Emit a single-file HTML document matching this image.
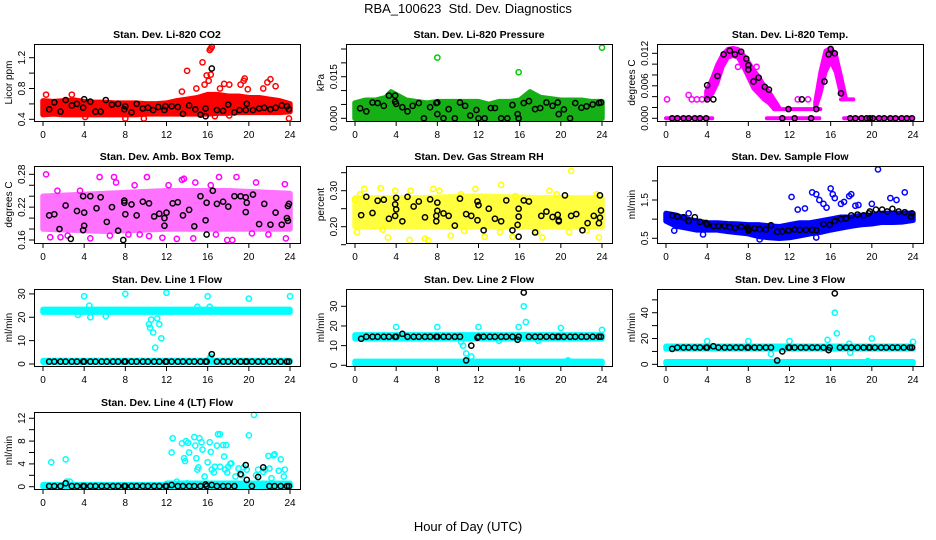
<!DOCTYPE html>
<html><head><meta charset="utf-8"><style>
html,body{margin:0;padding:0;background:#fff;}
svg{display:block;font-family:"Liberation Sans",Arial,sans-serif;}
</style></head><body>
<svg id="chart" width="936" height="540" viewBox="0 0 936 540">
<text x="468" y="13" text-anchor="middle" font-size="13" style="white-space:pre">RBA_100623&#160; Std. Dev. Diagnostics</text>
<text x="468" y="531" text-anchor="middle" font-size="13">Hour of Day (UTC)</text>
</svg>
<script>
const hourTicks = [0,4,8,12,16,20,24];
const hourlyX = [0.6,1.1,1.7,2.2,2.8,3.3,3.9,4,4.6,5.1,5.7,6.2,6.8,7.3,7.9,8,8.6,9.1,9.7,10.2,10.8,11.3,11.9,12,12.5,13.1,13.6,14.2,14.7,15.3,15.8,15.9,16.4,16.9,17.5,18,18.6,19.2,19.7,19.8,20.3,20.9,21.4,22,22.5,23.1,23.7,23.9];

// CO2
const co2BandX = [0,1,2,3,4,5,6,7,8,9,10,11,12,13,14,15,16,17,18,19,20,21,22,23,24];
const co2BandLo = [0.46,0.47,0.46,0.46,0.46,0.46,0.46,0.46,0.46,0.46,0.47,0.47,0.47,0.47,0.47,0.47,0.47,0.48,0.48,0.49,0.49,0.49,0.49,0.49,0.5];
const co2BandHi = [0.64,0.63,0.64,0.65,0.63,0.62,0.62,0.61,0.61,0.61,0.6,0.6,0.61,0.64,0.66,0.68,0.72,0.72,0.7,0.7,0.68,0.68,0.66,0.64,0.6];
const co2Out = [[0.1,0.47],[0.3,0.72],[2.8,0.72],[4.1,0.43],[8,0.41],[9.8,0.41],[13.5,0.76],[14,1.03],[14.9,0.8],[15.5,1.14],[15.7,0.85],[15.9,0.97],[16.1,0.9],[16.2,1.3],[16.3,1.32],[16.4,1.34],[16.3,0.98],[17.2,0.8],[17.6,0.86],[18.1,0.85],[19.2,0.85],[19.5,0.9],[19.6,0.93],[19.9,0.79],[21.4,0.8],[21.8,0.88],[22.1,0.92],[22.6,0.83],[23.9,0.41],[16.7,0.44],[18.1,0.45]];
const co2Black = [[0.6,0.53],[1.1,0.62],[1.7,0.5],[2.2,0.65],[2.8,0.58],[3.3,0.6],[3.9,0.55],[4,0.66],[4.6,0.63],[5.1,0.5],[5.6,0.5],[6.1,0.65],[6.7,0.59],[7.3,0.6],[7.9,0.53],[8,0.57],[8.6,0.49],[9.1,0.6],[9.7,0.54],[10.2,0.55],[10.7,0.52],[11.2,0.56],[11.8,0.52],[11.9,0.57],[12.5,0.57],[13.1,0.56],[13.6,0.47],[14.2,0.58],[14.8,0.53],[15.3,0.46],[15.8,0.54],[15.8,0.44],[16.4,1.06],[16.9,0.52],[17.5,0.51],[18,0.59],[18.6,0.49],[19.1,0.52],[19.7,0.52],[19.8,0.6],[20.4,0.52],[21,0.54],[21.5,0.55],[22.1,0.53],[22.6,0.55],[23.2,0.58],[23.7,0.57],[23.9,0.53]];

// Pressure
const presBandX = [0,1,2,3,3.5,4,5,6,7,8,9,10,11,12,13,14,15,16,16.5,17,18,19,20,21,22,23,24];
const presBandLo = [0,0,0,0,0,0,0,0,0,0,0,0,0,0,0,0,0,0,0,0,0,0,0,0,0,0,0];
const presBandHi = [0.0055,0.0065,0.0065,0.0075,0.0095,0.0085,0.0065,0.006,0.0055,0.006,0.006,0.006,0.006,0.006,0.005,0.006,0.006,0.0065,0.008,0.0095,0.0075,0.007,0.0065,0.0065,0.0065,0.006,0.006];
const presOut = [[8,0.0219],[15.9,0.0166],[24,0.0255]];
const presBlack = [[0.5,0.0036],[1.1,0.0025],[1.7,0.0057],[2.2,0.0055],[2.8,0.0045],[3.3,0.0082],[3.9,0.0082],[3.9,0.006],[4,0.0052],[4.6,0.004],[5.1,0.0025],[5.6,0.0045],[6.2,0.0055],[6.7,0],[7.3,0.004],[7.9,0.0055],[8,0.0057],[8,0.0015],[8.6,0],[9.1,0.0033],[9.7,0],[10.2,0.0057],[10.7,0.0045],[11.2,0.001],[11.8,0.003],[12,0],[12.6,0],[13.2,0.0037],[13.6,0.0037],[14.2,0],[14.8,0],[15.3,0.0048],[15.8,0.0015],[15.9,0],[16.4,0.0055],[16.9,0.0062],[17.5,0.0033],[18,0.0037],[18.6,0.0057],[19.2,0.0045],[19.7,0.0057],[19.8,0.0015],[20.3,0.0032],[20.9,0],[21.4,0.0055],[22,0.0038],[22.5,0.0043],[23.1,0.005],[23.7,0.0055],[23.9,0.0057]];

// Li-820 Temp (several bands)
const tempBandAX = [0,4.5], tempBandALo = [0,0], tempBandAHi = [0,0];
const tempBandBX = [9.8,14.9], tempBandBLo = [0,0], tempBandBHi = [0,0];
const tempBandCX = [17.3,24], tempBandCLo = [0,0], tempBandCHi = [0,0];
const tempBandDX = [3.9,4.5,5,5.5,6,6.5,7,7.5,8,8.5,9,9.5,10,10.5,11];
const tempBandDLo = [0.0035,0.0045,0.0065,0.0095,0.0112,0.0115,0.0112,0.0095,0.0075,0.0055,0.0045,0.0035,0.0028,0.0017,0.0017];
const tempBandDHi = [0.005,0.0075,0.01,0.0118,0.0128,0.013,0.0128,0.0118,0.0105,0.009,0.0078,0.0062,0.005,0.0035,0.002];
const tempBandEX = [10.5,15], tempBandELo = [0.0017,0.0017], tempBandEHi = [0.0017,0.0017];
const tempBandFX = [14.5,15,15.5,16,16.5,17,17.5];
const tempBandFLo = [0.0017,0.0045,0.0085,0.0105,0.0085,0.0045,0.0035];
const tempBandFHi = [0.003,0.0085,0.0125,0.013,0.0118,0.0078,0.0035];
const tempBandGX = [17,18.2], tempBandGLo = [0.0035,0.0035], tempBandGHi = [0.0035,0.0035];
const tempOut = [[0.1,0.0035],[2.2,0.0043],[2.5,0.0035],[3,0.0035],[3.5,0.0035],[7,0.0095],[8.8,0.0095],[9.6,0.0055],[12.8,0.0035],[13.8,0.0035]];
const tempBlack = [[0.6,0],[1.1,0],[1.7,0],[2.2,0],[2.8,0],[3.3,0],[3.9,0],[4,0.0061],[4,0.0035],[4.6,0.0035],[5,0.0078],[5.6,0.0118],[6.2,0.0125],[6.7,0.0118],[7.3,0.0123],[7.8,0.011],[8,0.0098],[8,0.009],[8.5,0.0068],[9,0.0075],[9.6,0.0058],[10,0.0053],[11.3,0],[11.9,0.0017],[12.5,0],[13.2,0.0035],[14.1,0],[14.6,0.0017],[15.4,0.0068],[15.8,0.0118],[16,0.0128],[16.4,0.012],[17,0.0046],[17.9,0],[18.4,0],[19,0],[19.5,0],[19.8,0],[20.1,0],[20.7,0],[21.2,0],[21.8,0],[22.3,0],[22.9,0],[23.4,0],[23.9,0]];

// Amb box temp
const ambBandX = [0,6,12,18,24];
const ambBandLo = [0.18,0.176,0.18,0.18,0.18];
const ambBandHi = [0.24,0.245,0.25,0.25,0.245];
const ambOut = [[0.3,0.28],[1.4,0.25],[3.6,0.25],[5.5,0.275],[6.9,0.275],[7.1,0.265],[8.9,0.26],[10.1,0.275],[12.2,0.26],[13.5,0.27],[13.7,0.272],[14.8,0.265],[16.3,0.26],[17.1,0.275],[18.8,0.275],[20.7,0.265],[23.5,0.262],[0.7,0.165],[2.4,0.168],[4.6,0.163],[6.5,0.168],[8.3,0.17],[10.3,0.167],[11.6,0.164],[13,0.162],[14.6,0.163],[16.8,0.17],[17.9,0.16],[18.4,0.16],[20.3,0.172],[21.9,0.17],[23.6,0.163],[1.7,0.165],[9.4,0.17]];
const ambBlack = [[0.6,0.205],[1.1,0.207],[1.6,0.18],[2.2,0.223],[2.7,0.162],[3.3,0.213],[3.9,0.24],[3.9,0.178],[4,0.186],[4,0.21],[4.6,0.24],[5.2,0.218],[5.6,0.238],[6.2,0.193],[6.7,0.22],[7.3,0.177],[7.8,0.16],[7.9,0.228],[7.9,0.232],[8,0.207],[8.6,0.225],[9.1,0.205],[9.7,0.23],[10.3,0.227],[10.8,0.203],[11.3,0.208],[11.8,0.2],[11.8,0.186],[12,0.21],[12.6,0.227],[13.1,0.229],[13.6,0.205],[14.2,0.215],[14.7,0.185],[15.3,0.24],[15.8,0.196],[15.9,0.17],[15.9,0.228],[16.5,0.25],[16.9,0.226],[17.5,0.23],[18,0.221],[18.6,0.24],[19.2,0.24],[19.7,0.238],[19.7,0.211],[19.8,0.228],[20.4,0.243],[21,0.189],[21.5,0.226],[22.1,0.188],[22.6,0.21],[23.2,0.188],[23.7,0.2],[23.8,0.195],[23.8,0.222],[23.9,0.226]];

// Gas stream RH
const rhBandX = [0,6,12,18,24];
const rhBandLo = [0.2,0.2,0.2,0.2,0.2];
const rhBandHi = [0.28,0.28,0.285,0.28,0.28];
const rhOut = [[0,0.275],[0.5,0.29],[0.9,0.305],[2.5,0.307],[3.9,0.3],[5.4,0.3],[7.6,0.305],[8.2,0.3],[10.3,0.29],[11.7,0.305],[14.2,0.316],[15.6,0.285],[18.9,0.3],[19.6,0.29],[21,0.355],[23.5,0.29],[0.2,0.185],[2.7,0.192],[3.2,0.17],[5.3,0.163],[6.8,0.167],[7.1,0.162],[9.3,0.175],[10.6,0.188],[12.6,0.172],[14.1,0.185],[15.3,0.172],[17.7,0.185],[18.2,0.17],[20.8,0.185],[22.5,0.19],[23.7,0.17]];
const rhBlack = [[0.6,0.232],[1.1,0.283],[1.7,0.238],[2.2,0.272],[2.8,0.275],[3.3,0.222],[3.9,0.23],[3.9,0.262],[4,0.248],[4,0.28],[4.6,0.215],[5.1,0.283],[5.7,0.256],[6.2,0.27],[6.8,0.226],[7.3,0.276],[7.9,0.23],[7.9,0.215],[8,0.244],[8,0.267],[8.6,0.237],[9.1,0.23],[9.7,0.203],[10.2,0.278],[10.8,0.235],[11.3,0.23],[11.9,0.218],[11.9,0.27],[12,0.26],[12.5,0.19],[13,0.25],[13.6,0.222],[14.2,0.215],[14.7,0.273],[15.3,0.19],[15.8,0.205],[15.9,0.25],[15.9,0.228],[15.9,0.172],[16.4,0.273],[16.9,0.27],[17.5,0.184],[18.1,0.23],[18.6,0.242],[19.2,0.227],[19.7,0.233],[19.8,0.218],[19.8,0.215],[20.4,0.287],[21,0.23],[21.5,0.235],[22.1,0.19],[22.6,0.21],[23.2,0.23],[23.7,0.21],[23.8,0.287],[23.8,0.225],[23.9,0.245]];

// Sample flow
const sfBandX = [0,1,2,3,4,5,6,7,8,9,10,11,12,13,14,15,16,17,18,19,20,21,22,23,24];
const sfBandLo = [0.95,0.82,0.77,0.72,0.72,0.72,0.68,0.65,0.62,0.55,0.52,0.5,0.52,0.57,0.62,0.66,0.72,0.77,0.82,0.86,0.88,0.92,0.92,0.93,0.97];
const sfBandHi = [1.15,1.1,1.0,0.95,0.9,0.9,0.88,0.87,0.85,0.85,0.82,0.8,0.85,0.9,0.9,0.95,1.0,1.05,1.05,1.1,1.1,1.15,1.15,1.15,1.15];
const sfOut = [[12.2,1.58],[12.8,1.25],[13.5,1.28],[14.2,1.7],[14.6,1.65],[14.9,1.5],[15.3,1.4],[15.6,1.3],[16,1.8],[16.2,1.65],[16.4,1.55],[17,1.4],[17.3,1.45],[17.8,1.6],[18,1.65],[18.4,1.35],[18.7,1.37],[20,1.4],[20.6,2.3],[21.8,1.55],[22.4,1.5],[23.2,1.7],[0.8,0.7],[3.6,0.6],[9.1,0.47],[14.6,0.52],[2.2,1.15]];
const sfBlack = [[0.6,1.1],[1.1,1.07],[1.7,1.05],[2.2,0.95],[2.8,1.05],[3.3,0.93],[3.9,0.9],[4,0.86],[4.6,0.82],[5.1,0.82],[5.7,0.82],[6.2,0.79],[6.7,0.77],[7.3,0.8],[7.9,0.78],[8,0.7],[8,0.74],[8.6,0.76],[9.1,0.74],[9.7,0.73],[10.2,0.84],[10.8,0.67],[11.3,0.68],[11.9,0.7],[12.5,0.73],[13,0.72],[13.6,0.72],[14.2,0.72],[14.6,0.71],[15.3,0.87],[15.9,0.85],[16.4,0.95],[17,1.0],[17.5,1.02],[18,1.1],[18.6,1.12],[19.2,1.1],[19.7,1.15],[19.8,1.2],[20.4,1.25],[21,1.25],[21.5,1.2],[22,1.27],[22.6,1.2],[23.2,1.18],[23.8,1.07],[23.9,1.15]];

// Line 1
const l1BandAX = [0,24], l1BandALo = [22.2,22.2], l1BandAHi = [23.4,23.4];
const l1BandBX = [0,24], l1BandBLo = [0.8,0.8], l1BandBHi = [1.5,1.5];
const l1Out = [[4,29],[4.5,25],[4.6,20],[6.1,20.5],[8,30],[10.3,17],[10.4,15.5],[10.5,19],[10.7,13.5],[10.9,7],[11.1,19.5],[11.3,17],[11.5,11],[12,30.5],[15,24.5],[16,29],[16.2,24.5],[20,28],[24,29],[3.4,21],[16.2,2.5],[16.3,3]];
const l1BlackY = [1,1,1,1,1,1,1,1,1,1,1,1,1,1,1,1,1,1,1,1,1,1,1,1,1,1,1,1,1,1,1,1,4.2,1,1,1,1,1,1,1,1,1,1,1,1,1,1,1];

// Line 2
const l2BandAX = [0,24], l2BandALo = [13.5,13.5], l2BandAHi = [15.5,15.5];
const l2BandBX = [0,24], l2BandBLo = [0.7,0.7], l2BandBHi = [2,2];
const l2Out = [[4,19.5],[8,19.5],[10.5,10],[10.8,6],[11.3,4.5],[12,19.5],[15.9,19.5],[16.4,30],[16.6,22],[20,19],[24,18],[14,12.5],[17.8,12.5],[20.7,2.5],[10.3,12]];
const l2BlackY = [13.5,14.5,14.5,14.5,14.5,14.5,14.5,14.5,16,14.5,14.5,14.5,14.5,14.5,14.5,14.5,14.5,14.5,14.5,14.5,2.5,10,14,14.5,14.5,14.5,14.5,14.5,14.5,14.5,13,14.5,37,14.5,14.5,14.5,14.5,14.5,14.5,14.5,14.5,14.5,14.5,14.5,14.5,14.5,14.5,14.5];

// Line 3
const l3BandAX = [0,24], l3BandALo = [12,12], l3BandAHi = [14,14];
const l3BandBX = [0,24], l3BandBLo = [0.5,0.5], l3BandBHi = [2,2];
const l3Out = [[4,18],[8,18],[10.2,8],[12,18],[15.7,19],[16.4,40],[16.6,24],[17.8,16],[17.9,9],[20,20],[24,17.5],[19.6,2.5]];
const l3BlackY = [12,13,13,13,13,13,13,13,14,13,13,13,13,13,13,13,13,13,13,13,3,10,13,13,13,13,13,13,13,13,11,13,55,13,13,13,13,13,13,13,13,13,13,13,13,13,13,13];

// Line 4
const l4BandAX = [0,24], l4BandALo = [0,0], l4BandAHi = [0.35,0.35];
const l4BandBX = [12,24], l4BandBLo = [0,0], l4BandBHi = [0.6,0.6];
const l4Out = [[0.8,4.3],[2.2,4.8],[2.3,0.9],[2.6,0.9],[12.5,6],[12.6,8.5],[13.5,7.6],[13.7,5],[13.8,4.5],[13.9,8],[14.1,7.7],[14.2,6],[14.7,8.7],[14.8,7.2],[14.9,5],[15,3],[15.1,3.4],[15.2,8.5],[15.4,7.8],[15.5,6.5],[15.7,1.8],[16,4.3],[16.2,7.8],[16.3,6.1],[16.4,3],[16.7,3.5],[16.9,7.2],[17,9.2],[17.2,9.2],[17.2,3.5],[17.5,7.3],[17.6,5.3],[17.7,3],[17.8,7.3],[18,3.5],[18.3,4.1],[18.7,1.8],[19,3.2],[19.5,3.4],[19.8,3],[20,9],[20.5,12.6],[20.7,2],[20.9,3],[21.4,2.6],[21.9,5.4],[22,3.2],[22.2,1.5],[22.4,5.5],[22.5,5.7],[22.9,2.8],[23.1,4.8],[23.4,1.8],[23.5,3],[17.9,2.5],[18.2,4],[16.6,2.5],[21.6,3],[19.3,2],[14,0.6],[13,0.9]];
const l4BlackY = [0.1,0.1,0.1,0.6,0.1,0.1,0.1,0.1,0.1,0.1,0.1,0.1,0.1,0.1,0.1,0.1,0.1,0.1,0.1,0.1,0.1,0.1,0.1,0.1,0.3,0.1,0.1,0.1,0.1,0.1,0.4,0.1,0.3,0.1,0.1,0.1,0.1,2.2,3.8,1.2,0.1,1.7,3.4,0.1,0.1,0.1,0.1,0.1];

const NS = 'http://www.w3.org/2000/svg';
const svg = document.getElementById('chart');
function mk(tag, attrs, parent){ const e=document.createElementNS(NS,tag); for(const k in attrs) e.setAttribute(k,attrs[k]); (parent||svg).appendChild(e); return e; }
function pairs(xs, ys){ return xs.map((x,i)=>[x,ys[i]]); }

const colLeft = [34,346,657];
const rowTop = [44,166,289,412];
const BW = 266, BH = 77;

const panels = [
 {name:'co2', title:'Stan. Dev. Li-820 CO2', ylab:'Licor ppm', col:0,row:0, dom:[0.378,1.378], ticks:[0.4,0.6,0.8,1.0,1.2], labels:[0.4,0.8,1.2], fmt:v=>v.toFixed(1), color:'#ff0000',
  bands:[[co2BandX,co2BandLo,co2BandHi]], out:co2Out, black:co2Black},
 {name:'pressure', title:'Stan. Dev. Li-820 Pressure', ylab:'kPa', col:1,row:0, dom:[-0.00097,0.0268], ticks:[0,0.005,0.01,0.015,0.02,0.025], labels:[0,0.015], fmt:v=>v.toFixed(3), color:'#00cd00', bandColor:'#16b016',
  bands:[[presBandX,presBandLo,presBandHi]], out:presOut, black:presBlack},
 {name:'li820-temp', title:'Stan. Dev. Li-820 Temp.', ylab:'degrees C', col:2,row:0, dom:[-0.0005,0.01372], ticks:[0,0.002,0.004,0.006,0.008,0.01,0.012], labels:[0,0.006,0.012], fmt:v=>v.toFixed(3), color:'#ff00ff', bandStroke:4,
  bands:[[tempBandAX,tempBandALo,tempBandAHi],[tempBandBX,tempBandBLo,tempBandBHi],[tempBandCX,tempBandCLo,tempBandCHi],[tempBandDX,tempBandDLo,tempBandDHi],[tempBandEX,tempBandELo,tempBandEHi],[tempBandFX,tempBandFLo,tempBandFHi],[tempBandGX,tempBandGLo,tempBandGHi]], out:tempOut, black:tempBlack},
 {name:'amb-box-temp', title:'Stan. Dev. Amb. Box Temp.', ylab:'degrees C', col:0,row:1, dom:[0.1545,0.2952], ticks:[0.16,0.18,0.2,0.22,0.24,0.26,0.28], labels:[0.16,0.22,0.28], fmt:v=>v.toFixed(2), color:'#ff00ff', bandOpacity:0.55,
  bands:[[ambBandX,ambBandLo,ambBandHi]], out:ambOut, black:ambBlack},
 {name:'gas-stream-rh', title:'Stan. Dev. Gas Stream RH', ylab:'percent', col:1,row:1, dom:[0.1547,0.3686], ticks:[0.15,0.2,0.25,0.3,0.35], labels:[0.2,0.3], fmt:v=>v.toFixed(2), color:'#ffff00', bandOpacity:0.75,
  bands:[[rhBandX,rhBandLo,rhBandHi]], out:rhOut, black:rhBlack},
 {name:'sample-flow', title:'Stan. Dev. Sample Flow', ylab:'ml/min', col:2,row:1, dom:[0.377,2.388], ticks:[0.5,1,1.5,2], labels:[0.5,1.5], fmt:v=>v.toFixed(1), color:'#0000ff',
  bands:[[sfBandX,sfBandLo,sfBandHi]], out:sfOut, black:sfBlack},
 {name:'line1-flow', title:'Stan. Dev. Line 1 Flow', ylab:'ml/min', col:0,row:2, dom:[-0.86,32.1], ticks:[0,10,20,30], labels:[0,10,20,30], fmt:v=>String(v), color:'#00ffff',
  bands:[[l1BandAX,l1BandALo,l1BandAHi],[l1BandBX,l1BandBLo,l1BandBHi]], out:l1Out, black:pairs(hourlyX,l1BlackY)},
 {name:'line2-flow', title:'Stan. Dev. Line 2 Flow', ylab:'ml/min', col:1,row:2, dom:[-0.36,38.8], ticks:[0,10,20,30], labels:[0,10,20,30], fmt:v=>String(v), color:'#00ffff',
  bands:[[l2BandAX,l2BandALo,l2BandAHi],[l2BandBX,l2BandBLo,l2BandBHi]], out:l2Out, black:pairs(hourlyX,l2BlackY)},
 {name:'line3-flow', title:'Stan. Dev. Line 3 Flow', ylab:'ml/min', col:2,row:2, dom:[-1.3,58.4], ticks:[0,10,20,30,40,50], labels:[0,20,40], fmt:v=>String(v), color:'#00ffff',
  bands:[[l3BandAX,l3BandALo,l3BandAHi],[l3BandBX,l3BandBLo,l3BandBHi]], out:l3Out, black:pairs(hourlyX,l3BlackY)},
 {name:'line4-flow', title:'Stan. Dev. Line 4 (LT) Flow', ylab:'ml/min', col:0,row:3, dom:[-0.4,13.1], ticks:[0,2,4,6,8,10,12], labels:[0,4,8,12], fmt:v=>String(v), color:'#00ffff',
  bands:[[l4BandAX,l4BandALo,l4BandAHi],[l4BandBX,l4BandBLo,l4BandBHi]], out:l4Out, black:pairs(hourlyX,l4BlackY)}
];

panels.forEach(p=>{
  const L = colLeft[p.col], T = rowTop[p.row], B = T+BH, R = L+BW;
  const xs = h => (L+9) + h/24*(BW-19);
  const ys = v => B - (v-p.dom[0])/(p.dom[1]-p.dom[0])*BH;
  const g = mk('g',{});
  
  
  const t = mk('text',{x:(L+R)/2, y:T-6, 'text-anchor':'middle','font-size':'10.5','font-weight':'bold'}, g);
  t.textContent = p.title;
  
  
  const bg = mk('g',{opacity:p.bandOpacity||1}, g);
  
  
  const bc = p.bandColor||p.color;
  p.bands.forEach(b=>{
    const [bx,lo,hi] = b;
    const pts = bx.map((x,i)=>xs(x)+','+ys(hi[i])).concat(bx.slice().reverse().map((x,i)=>xs(x)+','+ys(lo[bx.length-1-i])));
    const poly = mk('polygon',{points:pts.join(' '), fill:bc, stroke:bc, 'stroke-width':p.bandStroke||5.5, 'stroke-linejoin':'round'}, bg);
    
    
  });
  p.out.forEach(d=>{
    const c = mk('circle',{cx:xs(d[0]), cy:ys(d[1]), r:2.6, fill:'none', stroke:p.color,'stroke-width':1.5}, g);
    
    
  });
  p.black.forEach(d=>{
    const c = mk('circle',{cx:xs(d[0]), cy:ys(d[1]), r:2.6, fill:'none', stroke:'#000','stroke-width':1.5}, g);
    
    
  });
  const box = mk('rect',{x:L+0.5,y:T+0.5,width:BW,height:BH,fill:'none',stroke:'#000','stroke-width':1}, g);
  
  
  hourTicks.forEach(h=>{
    mk('line',{x1:xs(h),x2:xs(h),y1:B,y2:B+5,stroke:'#000'}, g);
    const tl = mk('text',{x:xs(h), y:B+17,'text-anchor':'middle','font-size':'10'}, g);
    tl.textContent = h;
    
    
  });
  p.ticks.forEach(v=>{
    mk('line',{x1:L-5,x2:L,y1:ys(v),y2:ys(v),stroke:'#000'}, g);
  });
  p.labels.forEach(v=>{
    const yl = mk('text',{x:0,y:0,'text-anchor':'middle','font-size':'10',transform:`translate(${L-9},${ys(v)}) rotate(-90)`}, g);
    yl.textContent = p.fmt(v);
    
    
  });
  const yt = mk('text',{x:0,y:0,'text-anchor':'middle','font-size':'10',transform:`translate(${L-22},${(T+B)/2}) rotate(-90)`}, g);
  yt.textContent = p.ylab;
  
  
});
</script>
</body></html>
